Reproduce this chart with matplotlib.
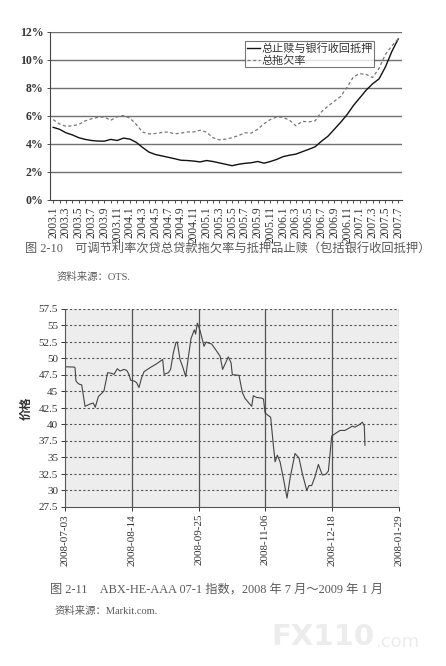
import numpy as np
import pandas as pd
import matplotlib
matplotlib.use("Agg")
import matplotlib.pyplot as plt
from matplotlib.ticker import FuncFormatter

plt.rcParams['font.family'] = ['Liberation Serif', 'Noto Sans CJK SC', 'DejaVu Sans']

# ---- figure 2-10: monthly 2003.1 .. 2007.7 ----
months = [f"{y}.{m}" for y in range(2003, 2008) for m in range(1, 13)][:55]
foreclosure = [5.19, 5.05, 4.80, 4.65, 4.45, 4.33, 4.25, 4.21, 4.20, 4.33,
               4.25, 4.42, 4.35, 4.12, 3.75, 3.42, 3.25, 3.15, 3.05, 2.95,
               2.84, 2.82, 2.78, 2.72, 2.82, 2.75, 2.65, 2.55, 2.45, 2.55,
               2.62, 2.66, 2.75, 2.63, 2.75, 2.90, 3.10, 3.20, 3.28, 3.45,
               3.62, 3.80, 4.20, 4.55, 5.05, 5.55, 6.10, 6.75, 7.30, 7.85,
               8.30, 8.65, 9.50, 10.60, 11.50]
delinquency = [5.74, 5.43, 5.26, 5.30, 5.40, 5.65, 5.80, 5.90, 5.93, 5.69,
               5.95, 6.03, 5.85, 5.40, 4.85, 4.72, 4.75, 4.82, 4.86, 4.72,
               4.78, 4.86, 4.86, 4.98, 4.85, 4.45, 4.30, 4.35, 4.45, 4.60,
               4.80, 4.78, 5.05, 5.45, 5.75, 5.93, 5.90, 5.70, 5.30, 5.62,
               5.58, 5.65, 6.30, 6.70, 7.05, 7.40, 8.05, 8.80, 9.02, 8.97,
               8.75, 9.40, 10.40, 11.00, 11.50]
pct_ticks = [0, 2, 4, 6, 8, 10, 12]

# ---- figure 2-11: ABX-HE-AAA 07-1, days after 2008-07-03 ----
abx_days = [0, 5.7, 6.3, 6.9, 7.7, 9.0, 10.5, 12.6, 15.7, 17.8, 19.0, 21.0,
            23.0, 24.5, 26.8, 29.3, 30.8, 32.9, 34.6, 37.1, 38.8, 40.2, 41.3,
            43.4, 45.0, 46.5, 48.2, 49.7, 53.4, 57.6, 61.4, 62.3, 65.0, 66.4,
            68.1, 69.8, 70.6, 72.3, 74.0, 75.9, 77.5, 79.2, 81.3, 81.7, 82.1,
            83.2, 84.9, 87.4, 88.7, 90.1, 92.2, 95.4, 97.5, 99.1, 102.7, 104.4,
            105.2, 109.4, 111.5, 113.2, 115.3, 117.4, 118.4, 120.5, 123.7,
            124.8, 125.8, 127.9, 129.3, 131.0, 132.1, 133.5, 135.2, 137.3,
            139.6, 141.5, 144.6, 147.1, 149.2, 152.0, 153.4, 155.1, 157.2,
            159.3, 161.8, 163.9, 165.6, 167.7, 169.8, 172.9, 176.0, 178.6,
            180.6, 182.3, 184.9, 187.0, 188.2, 188.6]
abx_price = [48.75, 48.70, 48.60, 46.60, 46.35, 46.10, 46.00, 42.75, 43.10,
             43.25, 42.60, 44.25, 44.70, 45.10, 47.85, 47.75, 47.60, 48.45,
             48.10, 48.35, 48.20, 47.60, 46.70, 46.60, 46.35, 45.60, 47.10,
             48.00, 48.60, 49.20, 49.85, 47.60, 47.85, 48.35, 50.85, 52.45,
             52.50, 49.85, 48.75, 47.25, 50.10, 53.00, 54.35, 54.10, 53.70,
             55.35, 54.25, 51.85, 52.50, 52.35, 52.20, 51.10, 50.35, 48.35,
             50.25, 49.35, 47.55, 47.45, 44.85, 43.95, 43.35, 42.75, 44.35,
             44.10, 44.00, 43.85, 41.75, 41.35, 41.10, 36.85, 34.35, 35.35,
             34.35, 31.85, 28.85, 31.85, 35.60, 34.95, 32.60, 30.00, 30.75,
             30.75, 32.10, 33.95, 32.35, 32.45, 32.95, 38.25, 38.60, 39.10,
             39.10, 39.45, 39.75, 39.60, 39.95, 40.35, 39.75, 36.85]
date_ticks = [0, 42, 84, 126, 168, 210]
date_labels = ["2008-07-03", "2008-08-14", "2008-09-25", "2008-11-06",
               "2008-12-18", "2008-01-29"]
price_ticks = np.arange(27.5, 57.6, 2.5)

fig = plt.figure(figsize=(4.46, 6.66), dpi=100)

# ---------- top chart ----------
ax1 = fig.add_axes([50 / 446, 1 - 200 / 666, 352 / 446, 168 / 666])
x = np.arange(len(months))
ax1.plot(x, foreclosure, color='#111111', lw=1.0, label='总止赎与银行收回抵押')
ax1.plot(x, delinquency, color='#777777', lw=0.9, ls=(0, (2.5, 2)),
         label='总拖欠率')
ax1.set_xlim(-0.5, 54.6)
ax1.set_ylim(0, 12)
ax1.set_yticks(pct_ticks)
ax1.yaxis.set_major_formatter(FuncFormatter(lambda v, p: f"{v:.0f}%"))
ax1.set_xticks(x)
ax1.set_xticklabels([m if i % 2 == 0 else "" for i, m in enumerate(months)],
                    rotation=90)
for yv in pct_ticks[1:]:
    ax1.axhline(yv, color='#707070', lw=1.0, zorder=0)
ax1.spines['top'].set_visible(False)
ax1.spines['right'].set_visible(False)
ax1.spines['left'].set_color('#444444')
ax1.spines['bottom'].set_color('#444444')
ax1.tick_params(axis='x', length=2.5, width=0.6, labelsize=8.3, pad=2,
                colors='#333333')
ax1.tick_params(axis='y', length=2.5, width=0.6, labelsize=8.5, pad=2,
                colors='#333333')
for t in ax1.get_yticklabels():
    t.set_fontweight('bold')
leg = ax1.legend(loc='upper left', bbox_to_anchor=(0.555, 0.945), fontsize=8,
                 frameon=True, fancybox=False, borderpad=0.15,
                 handlelength=1.2, handletextpad=0.1, labelspacing=0.1,
                 borderaxespad=0)
leg.get_frame().set_edgecolor('#555555')
leg.get_frame().set_linewidth(0.8)
for t in leg.get_texts():
    t.set_color('#333333')

fig.text(25 / 446, 1 - 250 / 666,
         "图 2-10　可调节利率次贷总贷款拖欠率与抵押品止赎（包括银行收回抵押）",
         fontsize=8.8, color='#5a5a5a', va='center', ha='left')
fig.text(57 / 446, 1 - 277 / 666, "资料来源：OTS.", fontsize=7.5,
         color='#5a5a5a', va='center', ha='left')

# ---------- bottom chart ----------
ax2 = fig.add_axes([65 / 446, 1 - 507 / 666, 334 / 446, 198 / 666])
ax2.set_facecolor('#ededed')
ax2.plot(abx_days, abx_price, color='#444444', lw=0.8)
ax2.set_xlim(0, 210)
ax2.set_ylim(27.5, 57.5)
ax2.set_yticks(price_ticks)
ax2.yaxis.set_major_formatter(FuncFormatter(lambda v, p: f"{v:g}"))
ax2.set_xticks(date_ticks)
ax2.set_xticklabels(date_labels, rotation=90)
for yv in price_ticks[1:]:
    ax2.axhline(yv, color='#555555', lw=0.8, ls=(0, (2, 2)), zorder=1)
for xv in date_ticks[1:-1]:
    ax2.axvline(xv, color='#555555', lw=0.9, zorder=1)
ax2.axvline(210, color='#999999', lw=0.9, ls=(0, (2, 1)), zorder=1)
for s in ['top', 'right']:
    ax2.spines[s].set_visible(False)
ax2.spines['left'].set_color('#555555')
ax2.spines['bottom'].set_color('#555555')
ax2.tick_params(axis='both', length=3, width=0.7, colors='#333333', pad=2)
ax2.tick_params(axis='x', labelsize=8)
ax2.tick_params(axis='y', labelsize=8)
ax2.set_ylabel("价格", fontsize=8.5, fontweight='bold', color='#333333',
               labelpad=4)

fig.text(50 / 446, 1 - 590 / 666,
         "图 2-11　ABX-HE-AAA 07-1 指数，2008 年 7 月～2009 年 1 月",
         fontsize=8.8, color='#5a5a5a', va='center', ha='left')
fig.text(55 / 446, 1 - 611 / 666, "资料来源：Markit.com.", fontsize=7.5,
         color='#5a5a5a', va='center', ha='left')
# faint watermark
fig.text(374 / 446, 1 - 637 / 666, "FX110", fontsize=21,
         fontweight='bold', color='#ececec', va='center', ha='right',
         family='DejaVu Sans')
fig.text(375 / 446, 1 - 642 / 666, ".com", fontsize=13,
         color='#ececec', va='center', ha='left', family='DejaVu Sans')

fig.savefig("out.png", dpi=100, facecolor='white')
